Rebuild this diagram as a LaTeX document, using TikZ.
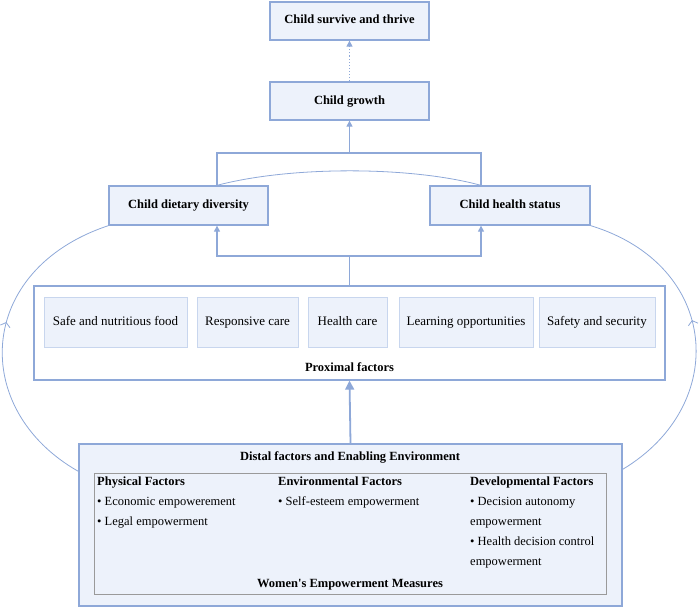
\documentclass[tikz,border=0pt]{standalone}
\usepackage{fontspec}
\setmainfont{Liberation Serif}
\usetikzlibrary{arrows.meta,decorations.markings}
\definecolor{lnblue}{HTML}{8EA8D8}
\definecolor{bxfill}{HTML}{EDF2FB}
\definecolor{inbord}{HTML}{C8D6EE}
\definecolor{grayb}{HTML}{9A9A9A}
\tikzset{
 mainbox/.style={draw=lnblue, line width=1.3pt, fill=bxfill, font=\fontsize{12.5}{14}\selectfont\bfseries, inner sep=0pt, minimum height=38pt, text height=9pt, text depth=3pt},
 factbox/.style={draw=inbord, line width=1pt, fill=bxfill, font=\fontsize{13}{14}\selectfont, minimum height=50pt, inner sep=0pt, text height=9pt, text depth=3pt},
 conn/.style={draw=lnblue, line width=1.1pt},
 tipa/.style={-{Triangle[length=6pt,width=6pt]}},
 loop/.style={draw=lnblue, line width=0.8pt, decoration={markings, mark=at position 0.55 with {\arrow{Straight Barb[length=4pt,width=10pt]}}}, postaction=decorate},
 txt/.style={font=\fontsize{12.5}{14}\selectfont, inner sep=0pt, text height=9pt, text depth=3pt},
 btxt/.style={txt, font=\fontsize{12.5}{14}\selectfont\bfseries}
}
\begin{document}
\begin{tikzpicture}[x=1pt,y=-1pt]
\useasboundingbox (0,0) rectangle (700,610);
% top boxes
\node[mainbox, minimum width=159pt] (thrive) at (349.5,21) {Child survive and thrive};
\node[mainbox, minimum width=159pt] (growth) at (349.5,101) {Child growth};
\node[mainbox, minimum width=159pt, minimum height=39pt] (diet) at (188.5,205.5) {Child dietary diversity};
\node[mainbox, minimum width=160pt, minimum height=39pt] (health) at (510,205.5) {Child health status};
% proximal
\node[draw=lnblue, line width=1.3pt, fill=white, minimum width=631pt, minimum height=94pt, inner sep=0pt] (prox) at (349.5,333) {};
\node[factbox, minimum width=143pt] (f1) at (115.5,322) {Safe and nutritious food};
\node[factbox, minimum width=101pt] (f2) at (247.5,322) {Responsive care};
\node[factbox, minimum width=79pt] (f3) at (347.5,322) {Health care};
\node[factbox, minimum width=134pt] (f4) at (466,322) {Learning opportunities};
\node[factbox, minimum width=116pt] (f5) at (597,322) {Safety and security};
\node[btxt] (proxlab) at (349.5,368) {Proximal factors};
% distal
\node[draw=lnblue, line width=1.3pt, fill=bxfill, minimum width=543pt, minimum height=162pt, inner sep=0pt] (distal) at (350.5,525) {};
\node[btxt] (distlab) at (350,457) {Distal factors and Enabling Environment};
\node[draw=grayb, line width=1pt, fill=bxfill, minimum width=512pt, minimum height=121pt, inner sep=0pt] (women) at (350,533.5) {};
\node[btxt, anchor=west] (p0) at (97,482) {Physical Factors};
\node[txt, anchor=west] (p1) at (97,502) {• Economic empowerement};
\node[txt, anchor=west] (p2) at (97,522) {• Legal empowerment};
\node[btxt, anchor=west] (e0) at (278,482) {Environmental Factors};
\node[txt, anchor=west] (e1) at (278,502) {• Self-esteem empowerment};
\node[btxt, anchor=west] (d0) at (470,482) {Developmental Factors};
\node[txt, anchor=west] (d1) at (470,502) {• Decision autonomy};
\node[txt, anchor=west] (d2) at (470,522) {empowerment};
\node[txt, anchor=west] (d3) at (470,542) {• Health decision control};
\node[txt, anchor=west] (d4) at (470,562) {empowerment};
\node[btxt] (wlab) at (350,584) {Women\textquotesingle s Empowerment Measures};
% connectors
\coordinate (dtop) at ([xshift=28.5pt]diet.north);
\coordinate (htop) at ([xshift=-29pt]health.north);
\coordinate (dbot) at ([xshift=28.5pt]diet.south);
\coordinate (hbot) at ([xshift=-29pt]health.south);
\coordinate (jtop) at (349.5,153);
\coordinate (jbot) at (349.5,256);
\draw[conn, dotted, tipa] (growth.north) -- (thrive.south);
\draw[conn] (dtop) |- (jtop) -| (htop);
\draw[conn, tipa] (jtop) -- (growth.south);
\draw[conn, tipa] (prox.north) -- (jbot) -| (dbot);
\draw[conn, tipa] (jbot) -| (hbot);
\draw[draw=lnblue, line width=0.8pt] (dtop) .. controls (290,166) and (410,166) .. (htop);
\draw[draw=lnblue, line width=1.8pt, -{Triangle[length=9pt,width=9pt]}] (distal.north) -- (prox.south);
\draw[loop] ([yshift=-28pt]distal.north west) .. controls (-30,410) and (-25,270) .. (diet.south west);
\draw[loop] ([yshift=-26pt]distal.north east) .. controls (730,405) and (720,265) .. (health.south east);
\end{tikzpicture}
\end{document}
